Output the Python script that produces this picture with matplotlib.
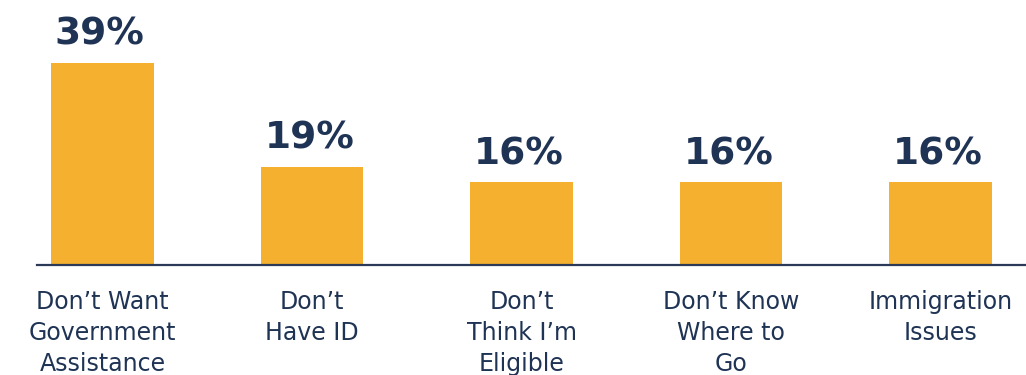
import matplotlib.pyplot as plt
import numpy as np

# reasons for not using assistance
categories = ["Don\u2019t Want\nGovernment\nAssistance", "Don\u2019t\nHave ID",
              "Don\u2019t\nThink I\u2019m\nEligible", "Don\u2019t Know\nWhere to\nGo",
              "Immigration\nIssues"]
values = [39, 19, 16, 16, 16]

bar_color = "#F4B02E"
navy = "#1F3354"

fig = plt.figure(figsize=(10.26, 3.75), dpi=100)
ax = fig.add_axes([37 / 1026, 1 - 265 / 375, 989 / 1026, 265 / 375])

x = np.arange(len(values))
bars = ax.bar(x, values, width=0.49, color=bar_color, zorder=2)

for b, v in zip(bars, values):
    ax.annotate(f"{v}%", (b.get_x() + b.get_width() / 2, v),
                xytext=(-2, 13), textcoords="offset points",
                ha="center", va="baseline", fontsize=27, fontweight="bold",
                color=navy)

ax.set_xlim(-0.313, 4.408)
ax.set_ylim(0, 39 * 265 / 202)

ax.set_xticks(x)
ax.set_xticklabels(categories, fontsize=17, color=navy, linespacing=1.38)
ax.tick_params(axis="x", length=0, pad=18)
ax.set_yticks([])

for s in ["top", "right", "left"]:
    ax.spines[s].set_visible(False)
ax.spines["bottom"].set_color("#2B3A57")
ax.spines["bottom"].set_linewidth(1.6)

fig.savefig("out.png", dpi=100)
